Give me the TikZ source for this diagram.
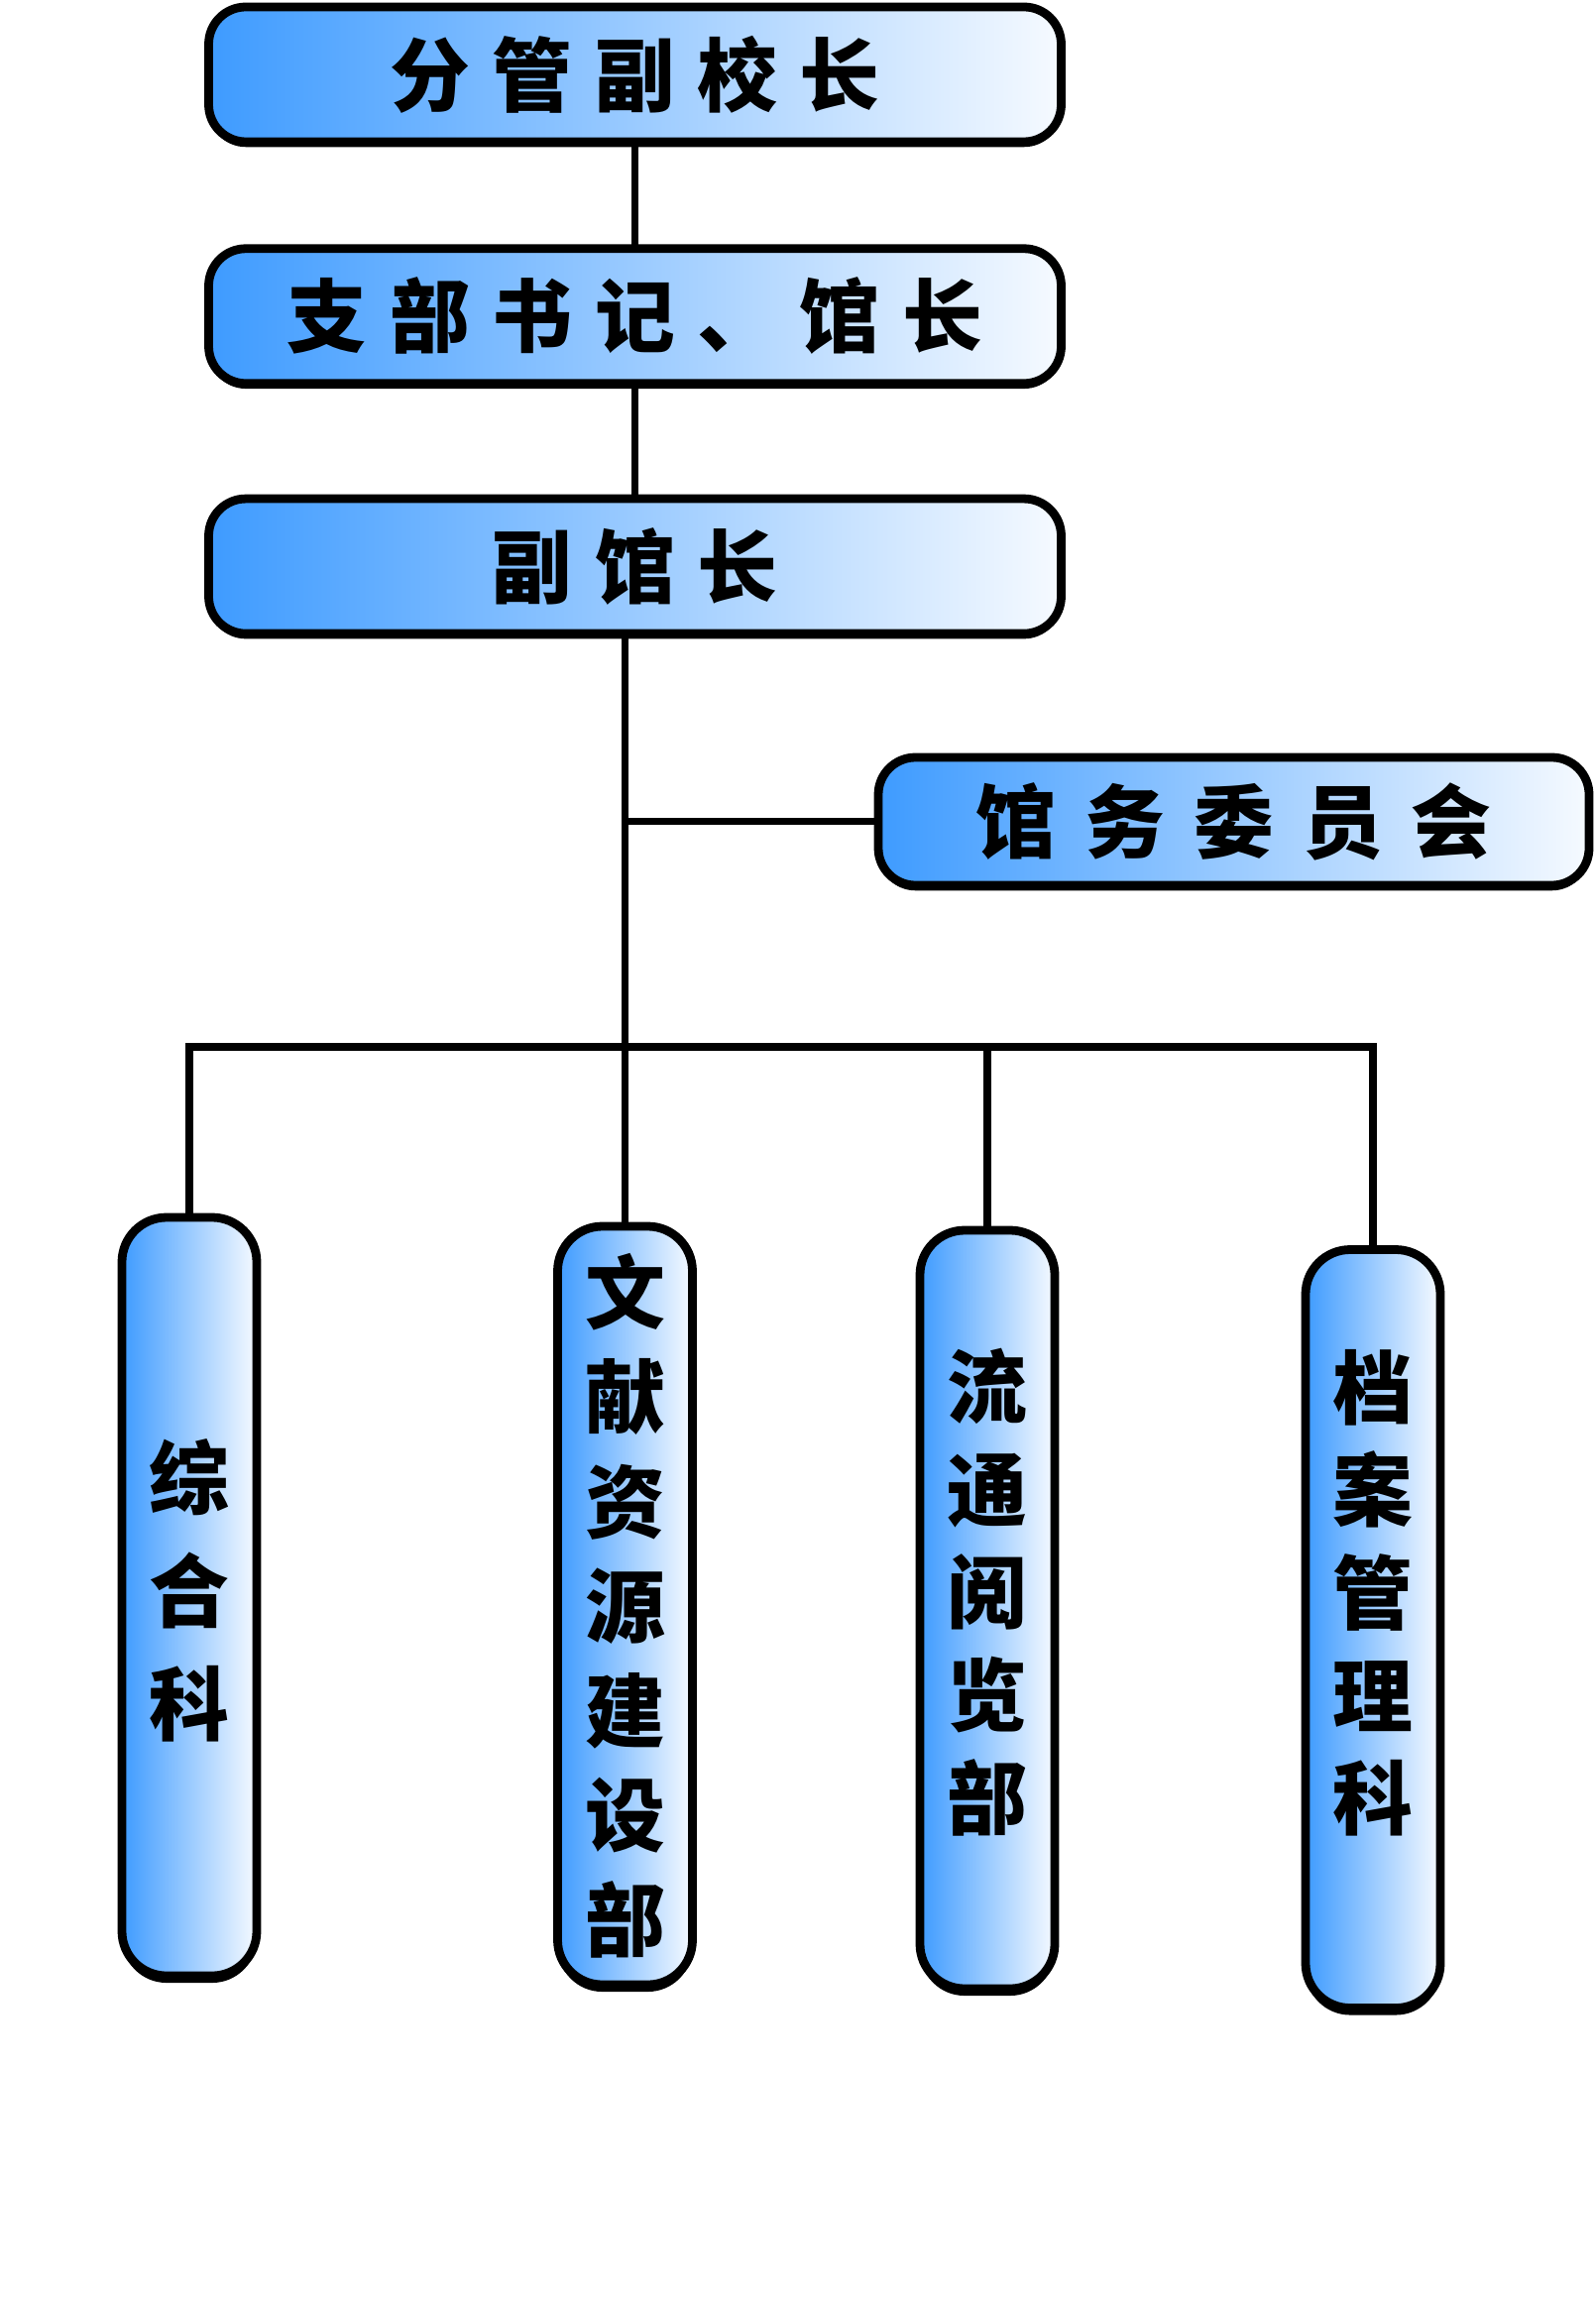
\documentclass[tikz,border=0pt]{standalone}
\usepackage{fontspec}
\usetikzlibrary{positioning,shadows}
\newfontfamily\cjk{Noto Sans CJK SC}
\newfontfamily\cjkwide[LetterSpace=28]{Noto Sans CJK SC}
\newfontfamily\cjkwider[LetterSpace=36]{Noto Sans CJK SC}
\definecolor{libblue}{HTML}{3E9BFF}
\definecolor{paleblue}{HTML}{F6FAFF}

\begin{document}
\begin{tikzpicture}[
    rank/.style={
        draw=black, line width=5pt, rounded corners=0.75cm,
        left color=libblue, right color=paleblue,
        minimum width=17.2cm, minimum height=2.72cm, inner sep=0pt,
        font=\cjkwide\bfseries\fontsize{46}{50}\selectfont,
        drop shadow={shadow xshift=0pt, shadow yshift=-3pt, fill=black, opacity=1}
    },
    dept/.style={
        draw=black, line width=5pt, rounded corners=0.9cm,
        left color=libblue, right color=paleblue,
        minimum width=2.72cm, minimum height=15.3cm, inner sep=0pt,
        align=center, font=\cjk\bfseries\fontsize{46}{#1}\selectfont,
        drop shadow={shadow xshift=0pt, shadow yshift=-4pt, fill=black, opacity=1}
    },
    link/.style={line width=4.2pt, line cap=rect},
]
\useasboundingbox (0,0) rectangle (32.18,-46.34);

% === Leadership (top column) ===
\node[rank] (head) at (12.81,-1.50) {分管副校长};
\node[rank, below=1.98cm of head] (secretary) {支部书记、馆长};
\node[rank, below=2.15cm of secretary] (vice) {副馆长};

% Committee on the side
\node[rank, minimum width=14.34cm, minimum height=2.58cm,
    font=\cjkwider\bfseries\fontsize{46}{50}\selectfont] (committee) at (24.89,-16.57) {馆务委员会};

% === Departments ===
\node[dept=65pt, text depth=0.4cm] (general) at (3.82,-32.21) {综\\合\\科};
\node[dept=60pt] (literature) at (12.61,-32.39) {文\\献\\资\\源\\建\\设\\部};
\node[dept=59pt, text depth=0.85cm] (circulation) at (19.92,-32.47) {流\\通\\阅\\览\\部};
\node[dept=59pt, text depth=1.6cm] (archive) at (27.70,-32.86) {档\\案\\管\\理\\科};

\coordinate (bus) at (0,-21.12);

% Connectors
\begin{scope}[on background layer/.try]
\draw[link] (head) -- (secretary);
\draw[link] (secretary) -- (vice);
\draw[link] (literature.north) -- (literature.north |- vice.south);
\draw[link] (committee.west) -- (committee.west -| literature.north);
\draw[link] (general.north) |- (bus -| archive.north) -- (archive.north);
\draw[link] (circulation.north) -- (circulation.north |- bus);
\end{scope}

\end{tikzpicture}
\end{document}
